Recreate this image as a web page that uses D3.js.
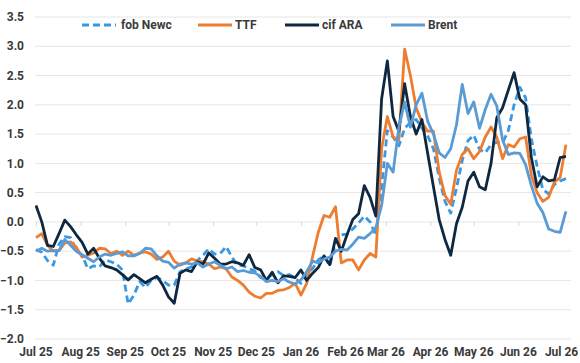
<!DOCTYPE html>
<html>
<head>
<meta charset="utf-8">
<script src="https://cdn.jsdelivr.net/npm/d3@7"></script>
<style>
  body { margin: 0; background: #fff; }
  svg text { font-family: Roboto, "Noto Sans", sans-serif; font-weight: bold; fill: #3a3a3a; }
</style>
</head>
<body>
<svg id="chart" width="580" height="363"></svg>
<script>
// samples every 4 days from 1 Jul 2025
const startDate = new Date(2025, 6, 1);
const stepDays = 4;

const fobNewc = [
  -0.47, -0.52, -0.66, -0.74, -0.38, -0.25, -0.27, -0.48, -0.57, -0.80,
  -0.75, -0.77, -0.65, -0.68, -0.72, -0.82, -1.40, -1.25, -1.02, -1.12,
  -1.00, -0.95, -1.00, -1.08, -1.08, -0.85, -0.80, -0.77, -0.66, -0.57,
  -0.46, -0.55, -0.54, -0.42, -0.60, -0.74, -0.75, -0.80, -0.84, -0.95,
  -0.97, -0.90, -0.85, -0.92, -0.90, -0.96, -1.05, -0.88, -0.80, -0.65,
  -0.58, -0.75, -0.35, -0.22, -0.21, -0.12, -0.02, 0.10, 0.00, -0.23,
  0.60, 1.56, 1.45, 1.30, 1.60, 1.70, 1.75, 1.60, 1.47, 1.25,
  0.75, 0.35, 0.15, 0.58, 1.05, 1.39, 1.48, 1.24, 1.18, 1.32,
  1.36, 1.35, 1.56, 2.00, 2.30, 2.12, 1.42, 0.95, 0.55, 0.48,
  0.64, 0.70, 0.74
];

const ttf = [
  -0.27, -0.20, -0.40, -0.50, -0.49, -0.36, -0.34, -0.43, -0.60, -0.57,
  -0.53, -0.45, -0.46, -0.54, -0.50, -0.57, -0.50, -0.57, -0.53, -0.51,
  -0.55, -0.64, -0.60, -0.50, -0.67, -0.74, -0.70, -0.63, -0.67, -0.68,
  -0.72, -0.80, -0.77, -0.80, -0.94, -1.00, -1.08, -1.20, -1.27, -1.30,
  -1.22, -1.22, -1.17, -1.16, -1.12, -1.05, -1.25, -1.05, -0.60, -0.18,
  0.11, 0.08, 0.26, -0.70, -0.65, -0.65, -0.82, -0.65, -0.54, -0.60,
  1.25, 1.80, 1.45, 1.40, 2.95, 2.50, 1.95, 1.70, 1.55, 1.55,
  0.85, 0.45, 0.30, 0.88, 1.15, 1.25, 1.08, 1.20, 1.45, 1.62,
  1.45, 1.08, 1.32, 1.28, 1.42, 1.45, 0.80, 0.50, 0.35, 0.42,
  0.68, 0.76, 1.32
];

const cifAra = [
  0.28, 0.00, -0.40, -0.42, -0.20, 0.03, -0.08, -0.22, -0.35, -0.55,
  -0.45, -0.62, -0.75, -0.78, -0.82, -0.90, -0.99, -0.90, -0.97, -1.04,
  -0.98, -0.93, -1.08, -1.28, -1.39, -0.88, -0.82, -0.85, -0.68, -0.72,
  -0.53, -0.62, -0.72, -0.72, -0.68, -0.70, -0.74, -0.56, -0.78, -0.82,
  -1.00, -0.86, -1.04, -0.92, -0.93, -0.95, -0.82, -1.00, -0.88, -0.78,
  -0.58, -0.73, -0.28, -0.50, -0.22, 0.04, 0.14, 0.62, 0.42, 0.10,
  2.10, 2.75, 1.80, 1.55, 2.36, 1.80, 1.50, 1.75, 1.17, 0.60,
  0.04, -0.30, -0.57, -0.03, 0.25, 0.70, 0.85, 0.60, 0.55, 1.00,
  1.78, 1.95, 2.25, 2.55, 2.10, 2.00, 1.10, 0.60, 0.77, 0.70,
  0.72, 1.10, 1.12
];

const brent = [
  -0.50, -0.45, -0.50, -0.49, -0.49, -0.30, -0.40, -0.50, -0.56, -0.62,
  -0.68, -0.60, -0.55, -0.57, -0.54, -0.51, -0.58, -0.58, -0.54, -0.45,
  -0.46, -0.58, -0.67, -0.69, -0.79, -0.72, -0.70, -0.72, -0.70, -0.77,
  -0.72, -0.68, -0.74, -0.80, -0.77, -0.85, -0.83, -0.86, -0.87, -0.93,
  -1.02, -1.00, -1.02, -0.97, -1.03, -1.06, -0.99, -0.85, -0.67, -0.70,
  -0.63, -0.60, -0.50, -0.47, -0.48, -0.38, -0.26, -0.28, -0.20, -0.10,
  0.28, 1.00, 0.85, 1.62, 2.05, 1.62, 2.00, 2.20, 1.72, 1.50,
  1.18, 1.10, 1.25, 1.66, 2.35, 1.85, 2.05, 1.60, 1.92, 2.18,
  1.98, 1.40, 1.15, 1.18, 1.17, 0.98, 0.62, 0.32, 0.16, -0.12,
  -0.16, -0.18, 0.18
];

const seriesNames = ["fob Newc", "TTF", "cif ARA", "Brent"];
const seriesColors = ["#3a98e2", "#ed7d31", "#0e2841", "#5b9bd5"];
const seriesDash = ["7,4", null, null, null];

const yTicks = [-2, -1.5, -1, -0.5, 0, 0.5, 1, 1.5, 2, 2.5, 3, 3.5];
const monthTicks = d3.timeMonth.range(new Date(2025, 6, 1), new Date(2026, 6, 2));

const dates = fobNewc.map((_, i) => d3.timeDay.offset(startDate, i * stepDays));
const allSeries = [fobNewc, ttf, cifAra, brent];

const svg = d3.select("#chart");
const gridLeft = 35, gridRight = 571;

const x = d3.scaleTime()
  .domain([new Date(2025, 6, 1), new Date(2026, 6, 1)])
  .range([36, 561.6]);
const y = d3.scaleLinear().domain([-2, 3.5]).range([339, 17]);

// horizontal gridlines
svg.append("g").selectAll("line").data(yTicks).join("line")
  .attr("x1", gridLeft).attr("x2", gridRight)
  .attr("y1", d => y(d)).attr("y2", d => y(d))
  .attr("stroke", "#e6e6e6").attr("stroke-width", 1);

// y labels
svg.append("g").selectAll("text").data(yTicks).join("text")
  .attr("x", 24).attr("y", d => y(d)).attr("dy", "0.35em")
  .attr("text-anchor", "end").attr("font-size", 12)
  .text(d3.format(".1f"));

// month ticks on the zero line
const xAxis = svg.append("g")
  .attr("transform", `translate(0,${y(0)})`)
  .call(d3.axisBottom(x).tickValues(monthTicks).tickSize(4).tickFormat(""));
xAxis.select(".domain").remove();
xAxis.selectAll(".tick line").attr("stroke", "#d9d9d9");

// month labels at the bottom
svg.append("g").selectAll("text").data(monthTicks).join("text")
  .attr("x", d => x(d)).attr("y", 352).attr("dy", "0.35em")
  .attr("text-anchor", "middle").attr("font-size", 12)
  .text(d3.timeFormat("%b %y"));

// lines
const line = d3.line()
  .x((d, i) => x(dates[i]))
  .y(d => y(d));

svg.append("g").selectAll("path").data(allSeries).join("path")
  .attr("d", d => line(d))
  .attr("fill", "none")
  .attr("stroke", (d, i) => seriesColors[i])
  .attr("stroke-width", 2.8)
  .attr("stroke-linejoin", "round")
  .attr("stroke-dasharray", (d, i) => seriesDash[i]);

// legend
const legendX = [82, 198, 285, 391];
const legend = svg.append("g").selectAll("g").data(seriesNames).join("g")
  .attr("transform", (d, i) => `translate(${legendX[i]},25)`);
legend.append("line")
  .attr("x1", 0).attr("x2", 34).attr("y1", 0).attr("y2", 0)
  .attr("stroke", (d, i) => seriesColors[i])
  .attr("stroke-width", 2.8)
  .attr("stroke-dasharray", (d, i) => seriesDash[i]);
legend.append("text")
  .attr("x", (d, i) => i === 0 ? 39 : 37).attr("y", 0).attr("dy", "0.35em")
  .attr("font-size", 12)
  .text(d => d);
</script>
</body>
</html>
